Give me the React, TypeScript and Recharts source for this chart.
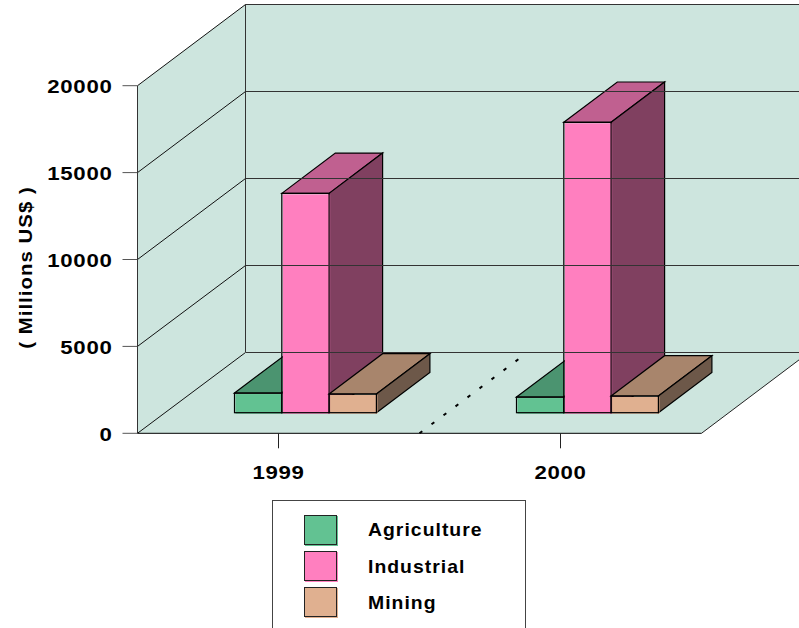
import { BarChart, Bar, XAxis, YAxis, Legend, ReferenceArea, ReferenceLine } from "recharts";

const years = ["1999", "2000"];
const agriculture = [1130, 900];
const industrial = [12620, 16710];
const mining = [1075, 960];
const yTicks = [0, 5000, 10000, 15000, 20000];

const chartData = years.map((year, i) => ({
  year,
  Agriculture: agriculture[i],
  Industrial: industrial[i],
  Mining: mining[i],
}));

const FONT = "'Liberation Sans', Arial, sans-serif";
const WALL = "#cde5de";
const DEPTH_X = 108;
const DEPTH_Y = -81.3;
const BAR_DX = 53.5;
const BAR_DY = -40.3;

const faces: Record<string, { top: string; side: string }> = {
  "#62c292": { top: "#4b9470", side: "#3c7a5a" },
  "#ff7fbf": { top: "#c06090", side: "#804060" },
  "#e0b090": { top: "#a8856c", side: "#6d5849" },
};

function Box3D(props: any) {
  const { fill, width, height } = props;
  // bars stand in the middle of the floor, not on its front edge
  const x = props.x + 27;
  const y = props.y - 20.6;
  const r = x + width;
  const b = y + height;
  const pts = (p: number[][]) => p.map((q) => q.join(",")).join(" ");
  return (
    <g stroke="#000" strokeWidth={1.2}>
      <polygon
        points={pts([[x, y], [x + BAR_DX, y + BAR_DY], [r + BAR_DX, y + BAR_DY], [r, y]])}
        fill={faces[fill].top}
      />
      <polygon
        points={pts([[r, y], [r + BAR_DX, y + BAR_DY], [r + BAR_DX, b + BAR_DY], [r, b]])}
        fill={faces[fill].side}
      />
      <rect x={x + 1} y={y + 1} width={width} height={height} fill={fill} stroke="none" />
      <rect x={x} y={y} width={width} height={height} fill="none" />
    </g>
  );
}

function Walls(props: any) {
  const { x, y, width, height } = props;
  const b = y + height;
  const bandMid = x + width / 2;
  return (
    <g>
      <polygon
        points={`${x},${b} ${x},${y} ${x + DEPTH_X},${y + DEPTH_Y} 830,${y + DEPTH_Y} 830,${b + DEPTH_Y} ${x + width + DEPTH_X},${b + DEPTH_Y} ${x + width},${b}`}
        fill={WALL}
        stroke="none"
      />
      <line x1={x} y1={y} x2={x} y2={b} stroke="#333" />
      <line x1={x + DEPTH_X} y1={y + DEPTH_Y} x2={x + DEPTH_X} y2={b + DEPTH_Y} stroke="#333" />
      <line x1={x + width} y1={b} x2={x + width + DEPTH_X} y2={b + DEPTH_Y} stroke="#222" />
      <line
        x1={bandMid}
        y1={b}
        x2={bandMid + 101.5}
        y2={b - 76}
        stroke="#000"
        strokeWidth={2}
        strokeDasharray="3.5 11.5"
      />
    </g>
  );
}

function GridLine(props: any) {
  const { x1, y1 } = props;
  const backY = Math.round(y1 + DEPTH_Y) + 0.5;
  return (
    <g fill="none">
      <line x1={x1} y1={y1} x2={x1 + DEPTH_X} y2={backY} stroke="#111" />
      <line x1={x1 + DEPTH_X} y1={backY} x2={830} y2={backY} stroke="#333" />
    </g>
  );
}

function YTick({ x, y, payload }: any) {
  return (
    <text
      transform={`translate(${x - 8},${y + 7.5}) scale(1.17,1)`}
      textAnchor="end"
      fontFamily={FONT}
      fontWeight="bold"
      fontSize={19}
      letterSpacing={0.6}
      fill="#000"
    >
      {payload.value}
    </text>
  );
}

function XTick({ x, y, payload }: any) {
  return (
    <text
      transform={`translate(${x},${y + 28.5}) scale(1.17,1)`}
      textAnchor="middle"
      fontFamily={FONT}
      fontWeight="bold"
      fontSize={19}
      letterSpacing={0.6}
      fill="#000"
    >
      {payload.value}
    </text>
  );
}

function YTitle() {
  return (
    <text
      transform="translate(32,267.5) rotate(-90) scale(1.07,1)"
      textAnchor="middle"
      fontFamily={FONT}
      fontWeight="bold"
      fontSize={19}
      letterSpacing={1}
      fill="#000"
    >
      ( Millions US$ )
    </text>
  );
}

function LegendBox({ payload }: any) {
  return (
    <div
      style={{
        boxSizing: "border-box",
        width: 254,
        height: 128,
        borderTop: "1px solid #444",
        borderLeft: "1px solid #444",
        borderRight: "1px solid #444",
        background: "#fff",
        paddingTop: 11,
        paddingLeft: 31,
      }}
    >
      {(payload ?? []).map((entry: any) => (
        <div key={entry.value} style={{ display: "flex", alignItems: "center", height: 36 }}>
          <span
            style={{
              boxSizing: "border-box",
              width: 33,
              height: 30,
              background: entry.color,
              border: "1px solid #222",
              boxShadow: `1px 1px 0 ${entry.color}`,
            }}
          />
          <span
            style={{
              marginLeft: 31,
              marginTop: entry.value === "Agriculture" ? 0 : 2,
              fontFamily: FONT,
              fontWeight: "bold",
              fontSize: 19,
              letterSpacing: 1,
              color: "#000",
              transform: "scaleX(1.02)",
              transformOrigin: "left center",
            }}
          >
            {entry.value}
          </span>
        </div>
      ))}
    </div>
  );
}

export default function App() {
  return (
    <div style={{ position: "absolute", left: 0, top: 0, width: 799, height: 628, overflow: "hidden", background: "#fff" }}>
      <BarChart
        width={799}
        height={628}
        data={chartData}
        margin={{ top: 85.7, right: 97.5, left: 77.5, bottom: 154.7 }}
        barSize={47.3}
        barGap={0}
        style={{ overflow: "hidden" }}
      >
        <ReferenceArea y1={0} y2={20000} ifOverflow="visible" shape={Walls} />
        {yTicks.map((t) => (
          <ReferenceLine key={t} y={t} ifOverflow="visible" shape={GridLine} />
        ))}
        <XAxis
          dataKey="year"
          height={40}
          tickSize={15}
          tickLine={{ stroke: "#222" }}
          axisLine={{ stroke: "#000" }}
          tick={XTick}
          interval={0}
        />
        <YAxis
          width={60}
          domain={[0, 20000]}
          ticks={yTicks}
          tickSize={15}
          tickLine={{ stroke: "#555" }}
          axisLine={false}
          tick={YTick}
          label={<YTitle />}
        />
        <Legend
          layout="vertical"
          align="center"
          verticalAlign="middle"
          content={LegendBox}
          wrapperStyle={{ position: "absolute", left: 272, top: 500, width: 254, height: 128, bottom: "auto", right: "auto" }}
        />
        <Bar dataKey="Agriculture" fill="#62c292" shape={Box3D} isAnimationActive={false} />
        <Bar dataKey="Industrial" fill="#ff7fbf" shape={Box3D} isAnimationActive={false} />
        <Bar dataKey="Mining" fill="#e0b090" shape={Box3D} isAnimationActive={false} />
      </BarChart>
    </div>
  );
}
